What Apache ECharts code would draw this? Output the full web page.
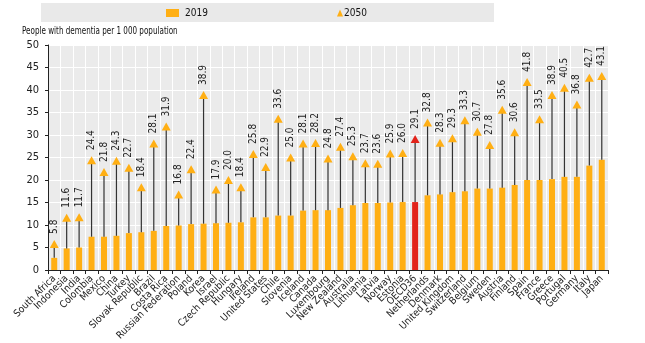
<!DOCTYPE html>
<html><head><meta charset="utf-8">
<script src="https://cdn.jsdelivr.net/npm/echarts@6/dist/echarts.min.js"></script>
<style>html,body{margin:0;padding:0;background:#fff}#c{width:645px;height:343px}</style>
</head><body><div id="c"></div>
<script>
const categories = ["South Africa","Indonesia","India","Colombia","Mexico","China","Turkey","Slovak Republic","Brazil","Costa Rica","Russian Federation","Poland","Korea","Israel","Czech Republic","Hungary","Ireland","United States","Chile","Slovenia","Iceland","Canada","Luxembourg","New Zealand","Australia","Lithuania","Latvia","Norway","Estonia","OECD36","Netherlands","Denmark","United Kingdom","Switzerland","Belgium","Sweden","Austria","Finland","Spain","France","Greece","Portugal","Germany","Italy","Japan"];
const values2019 = [2.7,4.8,5.0,7.4,7.4,7.6,8.2,8.4,8.7,9.8,9.9,10.2,10.3,10.4,10.5,10.6,11.7,11.7,12.1,12.1,13.2,13.3,13.3,13.8,14.4,14.9,14.9,15.0,15.1,15.1,16.6,16.8,17.3,17.5,18.1,18.1,18.3,18.9,20.0,20.0,20.2,20.7,20.7,23.2,24.5];
const values2050 = [5.8,11.6,11.7,24.4,21.8,24.3,22.7,18.4,28.1,31.9,16.8,22.4,38.9,17.9,20.0,18.4,25.8,22.9,33.6,25.0,28.1,28.2,24.8,27.4,25.3,23.7,23.6,25.9,26.0,29.1,32.8,28.3,29.3,33.3,30.7,27.8,35.6,30.6,41.8,33.5,38.9,40.5,36.8,42.7,43.1];
const highlight = "OECD36";
const yTicks = {min: 0, max: 50, interval: 5};

const ORANGE = '#FFAF14', RED = '#E2231A';
const FONT = '"Liberation Sans Narrow", "DejaVu Sans Condensed", Arial, sans-serif';
const chart = echarts.init(document.getElementById('c'), null, {renderer: 'canvas'});
const barData = values2019.map((v, i) => categories[i] === highlight ? {value: v, itemStyle: {color: RED}} : v);
const triData = values2050.map((v, i) => categories[i] === highlight ? {value: v, itemStyle: {color: RED}} : v);
const lineData = categories.map((c, i) => [i, values2019[i], values2050[i]]);

chart.setOption({
  animation: false,
  textStyle: {fontFamily: FONT},
  graphic: [
    {type: 'rect', left: 41, top: 3, shape: {width: 453, height: 19}, style: {fill: '#E9E9E9'}, z: -1},
    {type: 'text', x: 22, y: 26, scaleX: 0.8, style: {text: 'People with dementia per 1 000 population', fontSize: 10, fill: '#111', fontFamily: FONT}}
  ],
  legend: [
    {left: 166, top: 8, padding: 0, itemWidth: 13, itemHeight: 8, itemGap: 5,
      textStyle: {fontSize: 10, color: '#111', fontFamily: FONT, padding: [0, 0, 0, 1]},
      data: [{name: '2019', icon: 'rect', itemStyle: {color: ORANGE}}]},
    {left: 337, top: 8, padding: 0, itemWidth: 6, itemHeight: 7, itemGap: 5,
      textStyle: {fontSize: 10, color: '#111', fontFamily: FONT, padding: [0, 0, 0, -4]},
      data: [{name: '2050', icon: 'triangle', itemStyle: {color: ORANGE}}]}
  ],
  grid: {left: 48, right: 37, top: 45, bottom: 67, show: true, backgroundColor: '#EBEBEB', borderWidth: 0},
  xAxis: {
    type: 'category', data: categories,
    axisLine: {lineStyle: {color: '#222', width: 1}},
    axisTick: {show: true, length: 4, lineStyle: {color: '#222'}},
    splitLine: {show: true, lineStyle: {color: '#fff', width: 1}},
    axisLabel: {rotate: 45, interval: 0, fontSize: 10, color: '#222', margin: 7, fontFamily: FONT}
  },
  yAxis: {
    type: 'value', min: yTicks.min, max: yTicks.max, interval: yTicks.interval,
    axisLine: {show: true, lineStyle: {color: '#222'}},
    axisTick: {show: true, length: 3, lineStyle: {color: '#222'}},
    splitLine: {lineStyle: {color: '#fff', width: 1}},
    axisLabel: {fontSize: 11, color: '#222', margin: 9, fontFamily: FONT}
  },
  series: [
    {name: '2019', type: 'bar', data: barData, barWidth: 6, itemStyle: {color: ORANGE}, z: 2},
    {name: 'conn', type: 'custom', data: lineData, z: 3, silent: true,
      renderItem: function (params, api) {
        const p1 = api.coord([api.value(0), api.value(1)]);
        const p2 = api.coord([api.value(0), api.value(2)]);
        return {type: 'line', shape: {x1: p1[0], y1: p1[1], x2: p2[0], y2: p2[1]}, style: {stroke: '#333', lineWidth: 1.2}};
      }
    },
    {name: '2050', type: 'scatter', data: triData, symbol: 'triangle', symbolSize: [9, 8], itemStyle: {color: ORANGE, opacity: 1}, z: 4,
      label: {show: true, position: 'top', rotate: 90, align: 'left', verticalAlign: 'middle', distance: 6, fontSize: 10, color: '#222', fontFamily: FONT,
        formatter: p => Number(p.value).toFixed(1)}
    }
  ]
});
</script></body></html>
